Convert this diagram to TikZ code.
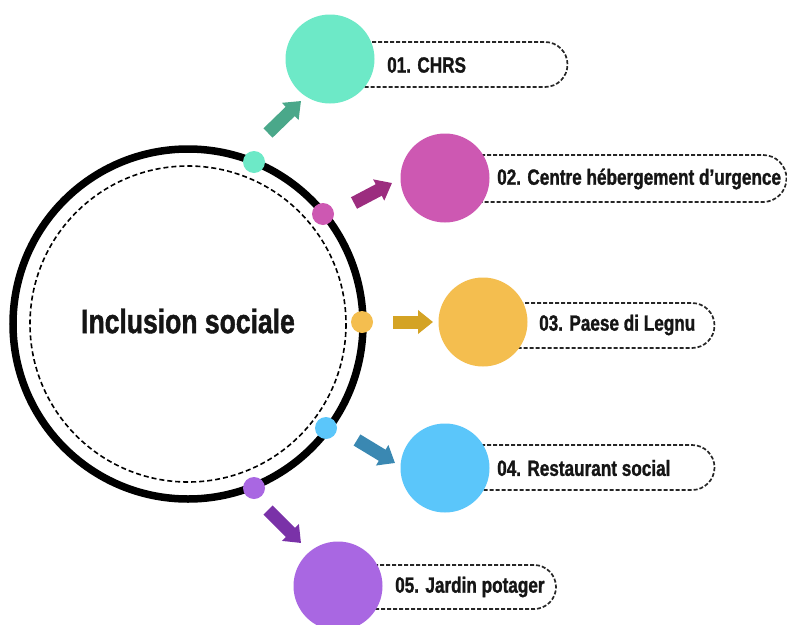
\documentclass[tikz,border=0pt]{standalone}
\usepackage{fontspec}
\usetikzlibrary{arrows.meta}
\newfontfamily\osw[FakeStretch=0.78,FakeBold=1.2]{Liberation Sans}
\definecolor{cTeal}{HTML}{6DE9C7}
\definecolor{cMag}{HTML}{CD58B2}
\definecolor{cYel}{HTML}{F4BE4F}
\definecolor{cBlue}{HTML}{5BC6FA}
\definecolor{cPur}{HTML}{A967E2}
\definecolor{aTeal}{HTML}{4AA88A}
\definecolor{aMag}{HTML}{9C2D7F}
\definecolor{aYel}{HTML}{D4A324}
\definecolor{aBlue}{HTML}{3A88B2}
\definecolor{aPur}{HTML}{7A32A8}
\definecolor{ink}{HTML}{151515}
\begin{document}
\begin{tikzpicture}[x=1pt,y=-1pt,
  bigdot/.style={circle,inner sep=0pt,minimum size=89pt,fill=#1},
  ringdot/.style={circle,inner sep=0pt,minimum size=22pt,fill=#1},
  lbl/.style={anchor=west,inner sep=0pt,font=\osw\bfseries\fontsize{22}{24}\selectfont,text=ink},
  blockarrow/.style={draw=#1,line width=13pt,-{Triangle[length=15pt,width=23pt]},color=#1},
  dashbox/.style={draw=black!85,line width=1.7pt,dash pattern=on 4pt off 2pt}]
\useasboundingbox (0,0) rectangle (787,624);
\clip (0,0) rectangle (787,624);
\fill[white] (0,0) rectangle (787,624);
% main circle
\coordinate (c) at (188,324);
\draw[line width=7.5pt] (c) circle[radius=175];
\draw[line width=1.6pt,dash pattern=on 5pt off 3pt] (c) circle[radius=158];
\node[font=\osw\bfseries\fontsize{34}{36}\selectfont,text=ink] (title) at (188,321) {Inclusion sociale};
% label boxes
\draw[dashbox] (330,42) -- (545,42) arc[start angle=-90,end angle=90,radius=22.5] -- (330,87);
\draw[dashbox] (445,155) -- (763,155) arc[start angle=-90,end angle=90,radius=23.5] -- (445,202);
\draw[dashbox] (483,303) -- (692,303) arc[start angle=-90,end angle=90,radius=22.5] -- (483,348);
\draw[dashbox] (445,445) -- (692,445) arc[start angle=-90,end angle=90,radius=22.5] -- (445,490);
\draw[dashbox] (338,565) -- (534,565) arc[start angle=-90,end angle=90,radius=22] -- (338,609);
% big circles
\node[bigdot=cTeal] (b1) at (330,59) {};
\node[bigdot=cMag] (b2) at (445,178) {};
\node[bigdot=cYel] (b3) at (483,322) {};
\node[bigdot=cBlue] (b4) at (445,468) {};
\node[bigdot=cPur] (b5) at (338,586) {};
% labels
\node[lbl] (l1) at (387,65) {01. CHRS};
\node[lbl] (l2) at (497,179) {02. Centre hébergement d’urgence};
\node[lbl] (l3) at (539,325) {03. Paese di Legnu};
\node[lbl] (l4) at (497,468) {04. Restaurant social};
\node[lbl] (l5) at (395,587) {05. Jardin potager};
% ring dots
\node[ringdot=cTeal] (d1) at (254,162) {};
\node[ringdot=cMag] (d2) at (323,214) {};
\node[ringdot=cYel] (d3) at (362,322) {};
\node[ringdot=cBlue] (d4) at (326,428) {};
\node[ringdot=cPur] (d5) at (254,488) {};
% arrows
\coordinate (s1) at (268,133); \coordinate (e1) at (301,101);
\coordinate (s2) at (354,203); \coordinate (e2) at (392,183);
\coordinate (s3) at (393,322); \coordinate (e3) at (433,322);
\coordinate (s4) at (357,440); \coordinate (e4) at (395,463);
\coordinate (s5) at (268,510); \coordinate (e5) at (301,543);
\draw[blockarrow=aTeal] (s1) -- (e1);
\draw[blockarrow=aMag] (s2) -- (e2);
\draw[blockarrow=aYel] (s3) -- (e3);
\draw[blockarrow=aBlue] (s4) -- (e4);
\draw[blockarrow=aPur] (s5) -- (e5);
\end{tikzpicture}
\end{document}
